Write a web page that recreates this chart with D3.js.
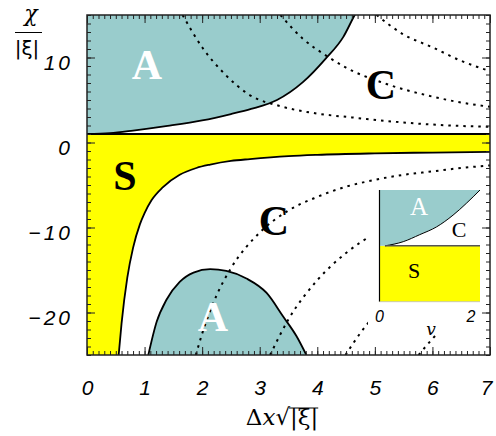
<!DOCTYPE html>
<html>
<head>
<meta charset="utf-8">
<script src="https://cdn.jsdelivr.net/npm/d3@7"></script>
<style>
  body { margin: 0; background: #fff; }
  svg { display: block; }
</style>
</head>
<body>
<svg id="chart" width="496" height="436"></svg>
<script>
// values: [Δx√|ξ|, χ/|ξ|]
const xTickValues = [0, 1, 2, 3, 4, 5, 6, 7];
const yTickValues = [-20, -10, 0, 10];
const sTop = 1; // upper edge of the S band

const aUpperEdge = [[0, 1], [0.4, 1.1], [0.8, 1.4], [1.4, 1.95], [2.0, 2.6], [2.5, 3.35], [2.85, 3.95],
  [3.3, 5.0], [3.75, 7.1], [4.15, 9.9], [4.45, 12.4], [4.65, 15], [4.7, 15.6]];
const aLowerDome = [[1.065, -25], [1.21, -21.1], [1.38, -18.5], [1.61, -16.4], [1.85, -15.3], [2.14, -14.9],
  [2.42, -15.1], [2.77, -16.0], [3.12, -17.7], [3.41, -20.5], [3.64, -22.8], [3.81, -25]];
const sEdge = [[0.55, -25], [0.6, -21.3], [0.7, -15.9], [0.8, -12.4], [0.92, -9.6], [1.0, -8.3], [1.12, -6.8],
  [1.32, -5.25], [1.61, -3.8], [1.9, -3.0], [2.14, -2.6], [2.5, -2.17], [2.83, -1.95], [3.5, -1.6],
  [4, -1.45], [5, -1.28], [6, -1.18], [7, -1.1]];

// dotted level lines
const dotA1 = [[1.66, 15], [2.0, 11.2], [2.4, 8.0], [2.8, 5.7], [3.4, 4.2], [4.0, 3.4], [4.6, 2.95], [5.5, 2.35], [6.3, 2.0], [7, 1.85]];
const dotA2 = [[3.36, 15], [3.75, 12.2], [4.16, 10.2], [4.5, 8.8], [5.15, 7.0], [6.0, 5.4], [6.5, 4.7], [7, 4.2]];
const dotA3 = [[5.03, 15], [5.5, 12.7], [6.0, 11.2], [6.5, 9.6], [7, 8.4]];
const dotC1 = [[1.89, -25], [2.0, -22.5], [2.25, -18.0], [2.5, -14.8], [3.0, -10.6], [3.5, -8.0], [4.0, -6.4],
  [4.5, -5.2], [5.0, -4.4], [5.5, -3.8], [6.0, -3.4], [6.5, -3.0], [7.0, -2.7]];
const dotC2 = [[3.18, -25], [3.5, -20.8], [4.0, -16.2], [4.5, -13.0], [5.0, -10.7], [5.5, -9.0], [6.0, -7.75], [6.5, -6.75], [7.0, -5.96]];
const dotC3 = [[4.49, -25], [4.75, -22.4], [5.0, -20.3], [5.5, -17.0], [6.0, -14.4], [6.5, -12.4], [7.0, -10.9]];
const dotC4 = [[5.76, -25], [6.0, -23.1], [6.5, -19.8], [7.0, -17.2]];

// inset: [v, arbitrary level], S band below 0
const insetEdge = [[0, 0], [0.12, 0], [0.52, 0.075], [0.88, 0.2], [1.25, 0.34], [1.61, 0.55], [1.9, 0.76], [2.2, 1.0]];
const insetTickValues = [0, 2];

const TEAL = "#99cccc";
const YELLOW = "#ffff00";

const svg = d3.select("#chart");

const x = d3.scaleLinear([0, 7], [87, 490]);
const y = d3.scaleLinear([-25, 15], [355, 15]);

svg.append("clipPath").attr("id", "plotClip")
  .append("rect")
  .attr("x", x(0)).attr("y", y(15))
  .attr("width", x(7) - x(0)).attr("height", y(-25) - y(15));

const plot = svg.append("g").attr("clip-path", "url(#plotClip)");

const line = d3.line().x(d => x(d[0])).y(d => y(d[1])).curve(d3.curveMonotoneX);

// S band: yellow below χ = 1, then carve out the white C region below the edge
plot.append("rect")
  .attr("x", x(0)).attr("y", y(sTop))
  .attr("width", x(7) - x(0)).attr("height", y(-25) - y(sTop))
  .attr("fill", YELLOW);

plot.append("path")
  .datum(sEdge)
  .attr("fill", "#fff")
  .attr("d", d3.area().x(d => x(d[0])).y0(y(-26)).y1(d => y(d[1])).curve(d3.curveMonotoneX));

// A regions
plot.append("path")
  .datum(aUpperEdge)
  .attr("fill", TEAL)
  .attr("d", d3.area().x(d => x(d[0])).y0(y(16)).y1(d => y(d[1])).curve(d3.curveMonotoneX));

plot.append("path")
  .datum(aLowerDome)
  .attr("fill", TEAL)
  .attr("d", d3.area().x(d => x(d[0])).y0(y(-26)).y1(d => y(d[1])).curve(d3.curveMonotoneX));

// dotted lines
[dotA1, dotA2, dotA3, dotC1, dotC2, dotC3, dotC4].forEach(d => {
  plot.append("path")
    .datum(d)
    .attr("fill", "none")
    .attr("stroke", "#000")
    .attr("stroke-width", 2)
    .attr("stroke-dasharray", "2.5,5")
    .attr("d", line);
});

// solid boundaries
plot.append("path")
  .datum([[0, sTop], [7, sTop]])
  .attr("fill", "none").attr("stroke", "#000").attr("stroke-width", 2.2)
  .attr("d", d3.line().x(d => x(d[0])).y(d => y(d[1])));

[aUpperEdge, sEdge, aLowerDome].forEach(d => {
  plot.append("path")
    .datum(d)
    .attr("fill", "none")
    .attr("stroke", "#000")
    .attr("stroke-width", 1.8)
    .attr("d", line);
});

// region letters
const letters = [
  { t: "A", x: 147, y: 79, c: "#fff" },
  { t: "S", x: 125, y: 190, c: "#000" },
  { t: "C", x: 381, y: 99, c: "#000" },
  { t: "C", x: 274, y: 235, c: "#000" },
  { t: "A", x: 213, y: 331, c: "#fff" }
];
svg.append("g")
  .selectAll("text")
  .data(letters)
  .join("text")
  .attr("x", d => d.x).attr("y", d => d.y)
  .attr("text-anchor", "middle")
  .attr("font-family", "Liberation Serif, Times New Roman, serif")
  .attr("font-weight", "bold")
  .attr("font-size", 42)
  .attr("fill", d => d.c)
  .text(d => d.t);

// inset
const ix = d3.scaleLinear([0, 2.2], [379.5, 480]);
const iy = d3.scaleLinear([-1, 1], [301.7, 190]);
const inset = svg.append("g");

inset.append("rect")
  .attr("x", 368).attr("y", 184).attr("width", 121).attr("height", 150)
  .attr("fill", "#fff");

inset.append("rect")
  .attr("x", ix(0)).attr("y", iy(0))
  .attr("width", ix(2.2) - ix(0)).attr("height", iy(-1) - iy(0))
  .attr("fill", YELLOW);

inset.append("path")
  .datum(insetEdge)
  .attr("fill", TEAL)
  .attr("d", d3.area().x(d => ix(d[0])).y0(iy(1)).y1(d => iy(d[1])).curve(d3.curveMonotoneX));

inset.append("path")
  .datum(insetEdge.slice(1))
  .attr("fill", "none").attr("stroke", "#000").attr("stroke-width", 1)
  .attr("d", d3.line().x(d => ix(d[0])).y(d => iy(d[1])).curve(d3.curveMonotoneX));

inset.append("line")
  .attr("x1", ix(insetEdge[1][0])).attr("x2", ix(2.2))
  .attr("y1", iy(0)).attr("y2", iy(0))
  .attr("stroke", "#555").attr("stroke-width", 1.5);

inset.append("line")
  .attr("x1", ix(0)).attr("x2", ix(0))
  .attr("y1", iy(1)).attr("y2", iy(-1))
  .attr("stroke", "#000").attr("stroke-width", 1.2);

inset.append("line")
  .attr("x1", ix(0)).attr("x2", ix(2.2))
  .attr("y1", iy(-1)).attr("y2", iy(-1))
  .attr("stroke", "#bbb").attr("stroke-width", 0.8);

const insetLetters = [
  { t: "A", x: 419, y: 215, c: "#fff", s: 25 },
  { t: "C", x: 459, y: 237, c: "#000", s: 22 },
  { t: "S", x: 414, y: 278, c: "#000", s: 22 }
];
inset.selectAll("text.lab")
  .data(insetLetters)
  .join("text")
  .attr("class", "lab")
  .attr("x", d => d.x).attr("y", d => d.y)
  .attr("text-anchor", "middle")
  .attr("font-family", "Liberation Serif, Times New Roman, serif")
  .attr("font-size", d => d.s)
  .attr("fill", d => d.c)
  .text(d => d.t);

inset.selectAll("text.tick")
  .data(insetTickValues)
  .join("text")
  .attr("class", "tick")
  .attr("x", d => ix(d))
  .attr("y", 322)
  .attr("text-anchor", "middle")
  .attr("font-family", "Liberation Sans, sans-serif")
  .attr("font-style", "italic")
  .attr("font-size", 16)
  .text(d => d);

inset.append("text")
  .attr("x", 431).attr("y", 335)
  .attr("text-anchor", "middle")
  .attr("font-family", "DejaVu Serif, serif")
  .attr("font-style", "italic")
  .attr("font-size", 17)
  .text("v");

// axes, ticks pointing inward on all four sides
const minorX = d3.range(0, 71).map(i => i / 10);
const minorY = d3.range(-25, 16);

function styleAxis(g) {
  g.select(".domain").remove();
  g.selectAll(".tick line").attr("stroke", "#222");
}

svg.append("g")
  .attr("transform", `translate(0,${y(-25)})`)
  .call(d3.axisBottom(x).tickValues(minorX).tickSize(-4).tickFormat(""))
  .call(styleAxis);
svg.append("g")
  .attr("transform", `translate(0,${y(15)})`)
  .call(d3.axisTop(x).tickValues(minorX).tickSize(-4).tickFormat(""))
  .call(styleAxis);
svg.append("g")
  .attr("transform", `translate(${x(0)},0)`)
  .call(d3.axisLeft(y).tickValues(minorY).tickSize(-4).tickFormat(""))
  .call(styleAxis);
svg.append("g")
  .attr("transform", `translate(${x(7)},0)`)
  .call(d3.axisRight(y).tickValues(minorY).tickSize(-4).tickFormat(""))
  .call(styleAxis);

const xAxis = svg.append("g")
  .attr("transform", `translate(0,${y(-25)})`)
  .call(d3.axisBottom(x).tickValues(xTickValues).tickSize(-8).tickPadding(25).tickFormat(d3.format("d")))
  .call(styleAxis);
svg.append("g")
  .attr("transform", `translate(0,${y(15)})`)
  .call(d3.axisTop(x).tickValues(xTickValues).tickSize(-8).tickFormat(""))
  .call(styleAxis);

const yAxis = svg.append("g")
  .attr("transform", `translate(${x(0)},0)`)
  .call(d3.axisLeft(y).tickValues(yTickValues).tickSize(-8).tickPadding(14)
    .tickFormat(d => d < 0 ? "\u2212" + Math.abs(d) : String(d)))
  .call(styleAxis);
svg.append("g")
  .attr("transform", `translate(${x(7)},0)`)
  .call(d3.axisRight(y).tickValues(yTickValues).tickSize(-8).tickFormat(""))
  .call(styleAxis);

[xAxis, yAxis].forEach(a => a
  .attr("font-family", "Liberation Sans, sans-serif")
  .attr("font-size", 21)
  .attr("font-style", "italic")
  .selectAll("text")
  .attr("fill", "#000"));
yAxis.selectAll("text").attr("dy", "0.55em").attr("letter-spacing", 3);
xAxis.selectAll(".tick:last-of-type text").attr("dx", -4);

// frame
svg.append("rect")
  .attr("x", x(0)).attr("y", y(15))
  .attr("width", x(7) - x(0)).attr("height", y(-25) - y(15))
  .attr("fill", "none").attr("stroke", "#222").attr("stroke-width", 1.5);

// y title: χ over |ξ|
svg.append("text")
  .attr("x", 31).attr("y", 21)
  .attr("text-anchor", "middle")
  .attr("font-family", "DejaVu Serif, serif")
  .attr("font-style", "italic")
  .attr("font-size", 22)
  .text("χ");
svg.append("line")
  .attr("x1", 15).attr("x2", 42).attr("y1", 32.5).attr("y2", 32.5)
  .attr("stroke", "#000").attr("stroke-width", 1);
svg.append("text")
  .attr("x", 27).attr("y", 55)
  .attr("text-anchor", "middle")
  .attr("font-family", "DejaVu Sans, sans-serif")
  .attr("font-size", 20)
  .text("|ξ|");

// x title: Δx√|ξ|
const xTitle = svg.append("text")
  .attr("x", 282).attr("y", 425)
  .attr("text-anchor", "middle")
  .attr("font-family", "DejaVu Serif, serif")
  .attr("font-size", 23);
xTitle.append("tspan").text("Δ");
xTitle.append("tspan").attr("font-style", "italic").text("x");
xTitle.append("tspan").text("√|ξ|");

const tn = xTitle.node();
const e0 = tn.getExtentOfChar(2);
const e1 = tn.getExtentOfChar(5);
svg.append("line")
  .attr("x1", e0.x + e0.width - 1).attr("x2", e1.x + e1.width)
  .attr("y1", e0.y + 4).attr("y2", e0.y + 4)
  .attr("stroke", "#000").attr("stroke-width", 1);
</script>
</body>
</html>
